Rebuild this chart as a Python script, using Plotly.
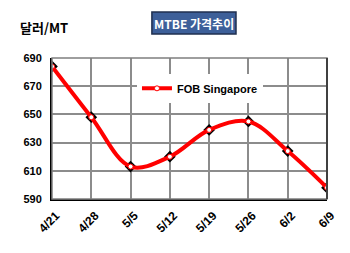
import plotly.graph_objects as go

dates = ["4/21", "4/28", "5/5", "5/12", "5/19", "5/26", "6/2", "6/9"]
fob_singapore = [684, 648, 613, 620, 639, 645, 624, 598]
y_ticks = [590, 610, 630, 650, 670, 690]

fig = go.Figure()
fig.add_trace(go.Scatter(
    x=dates, y=fob_singapore, mode="markers", showlegend=False,
    marker=dict(symbol="diamond", size=9, color="black"),
    hoverinfo="skip"))
fig.add_trace(go.Scatter(
    x=dates, y=fob_singapore, mode="lines+markers", name="FOB Singapore",
    line=dict(color="#ff0000", width=4, shape="spline", smoothing=1.0),
    marker=dict(symbol="circle", size=5, color="white",
                line=dict(color="#ff0000", width=1))))

fig.update_layout(
    width=350, height=253,
    margin=dict(l=52, r=20, t=58, b=54),
    paper_bgcolor="white", plot_bgcolor="white",
    font=dict(family="Liberation Sans, Arial, sans-serif", size=11, color="black"),
    xaxis=dict(type="category", range=[0, 7], tickangle=-45,
               showgrid=True, gridcolor="#8c8c8c", gridwidth=1.5,
               showline=True, linecolor="black", linewidth=2, mirror=False,
               tickfont=dict(family="Liberation Sans, Arial", size=12, weight="bold"),
               ticks="", zeroline=False, ticklabelshift=4, ticklabelstandoff=3),
    yaxis=dict(range=[590, 690], tickvals=y_ticks,
               showgrid=True, gridcolor="#8c8c8c", gridwidth=1.5,
               showline=True, linecolor="black", linewidth=2,
               tickfont=dict(family="Liberation Sans, Arial", size=11, weight="bold"),
               ticks="", zeroline=False, ticklabelstandoff=6),
    legend=dict(x=0.309, y=0.785, xanchor="left", yanchor="middle",
                bgcolor="white", borderwidth=0,
                font=dict(family="Liberation Sans, Arial", size=11, weight="bold"),
                itemwidth=30),
    shapes=[
        dict(type="rect", xref="paper", yref="paper", x0=0, x1=1, y0=0, y1=1,
             line=dict(color="#7f7f7f", width=1.5), fillcolor="rgba(0,0,0,0)"),
        dict(type="line", xref="paper", yref="paper", x0=1, x1=1, y0=0, y1=1,
             line=dict(color="#404040", width=2)),
        dict(type="rect", xref="paper", yref="paper",
             x0=(153 - 52) / 278, x1=(238 - 52) / 278,
             y0=(199 - 34) / 141, y1=(199 - 12) / 141,
             line=dict(color="#1f2f4f", width=1.5), fillcolor="#3d5f99",
             layer="above"),
    ],
    annotations=[
        dict(text="<b>MTBE 가격추이</b>", xref="paper", yref="paper",
             x=(195.5 - 52) / 278, y=(199 - 23) / 141, showarrow=False,
             font=dict(family="Noto Sans CJK KR, sans-serif", size=12, color="white"),
             xanchor="center", yanchor="middle"),
        dict(text="<b>달러/MT</b>", xref="paper", yref="paper",
             x=(18 - 52) / 278, y=(199 - 27) / 141, showarrow=False,
             font=dict(family="Noto Sans CJK KR, sans-serif", size=13, color="black"),
             xanchor="left", yanchor="middle"),
    ],
)

fig.write_html("out.html")
